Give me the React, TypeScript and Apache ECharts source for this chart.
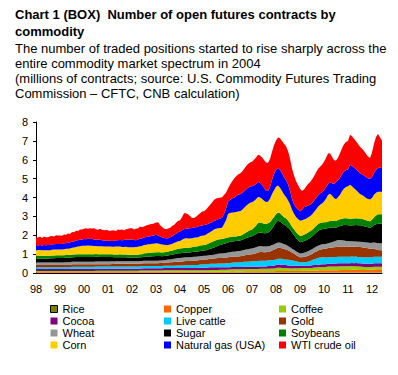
import React, { useEffect, useRef } from 'react';
import * as echarts from 'echarts';

// Tick labels (January of each year); monthly data Jan 1998 – Jun 2012
const yearLabels = ['98', '99', '00', '01', '02', '03', '04', '05', '06', '07', '08', '09', '10', '11', '12'];
const monthsInLastYear = 6;

// Millions of open contracts, monthly, stacked bottom -> top
const rice = [
  .01, .01, .01, .01, .01, .01, .01, .01, .01, .01, .01, .01,
  .01, .01, .01, .01, .01, .01, .01, .01, .01, .01, .01, .01,
  .01, .01, .01, .01, .01, .01, .01, .01, .01, .01, .01, .01,
  .01, .01, .01, .01, .01, .01, .01, .01, .01, .01, .01, .01,
  .01, .01, .01, .01, .01, .01, .01, .01, .01, .01, .01, .01,
  .01, .01, .01, .01, .01, .01, .01, .01, .01, .01, .01, .01,
  .01, .01, .01, .01, .01, .01, .01, .01, .01, .01, .01, .01,
  .01, .01, .01, .01, .01, .01, .01, .01, .01, .01, .01, .01,
  .02, .02, .02, .02, .02, .02, .02, .02, .02, .02, .02, .02,
  .02, .02, .02, .02, .02, .02, .02, .02, .02, .02, .02, .02,
  .02, .02, .02, .02, .02, .02, .02, .02, .02, .02, .02, .02,
  .02, .02, .02, .02, .02, .02, .02, .02, .02, .02, .02, .02,
  .02, .02, .02, .02, .02, .02, .02, .02, .02, .02, .02, .02,
  .02, .02, .02, .02, .02, .02, .02, .02, .02, .02, .02, .02,
  .02, .02, .02, .02, .02, .02,
];
const copper = [
  .04, .04, .04, .04, .04, .04, .04, .04, .04, .04, .04, .04,
  .04, .04, .04, .04, .04, .04, .04, .04, .04, .04, .04, .04,
  .04, .04, .04, .04, .04, .04, .04, .04, .04, .04, .04, .04,
  .04, .04, .04, .04, .04, .04, .04, .04, .04, .04, .04, .04,
  .04, .04, .04, .04, .05, .05, .05, .05, .05, .05, .05, .05,
  .05, .05, .05, .05, .05, .05, .05, .05, .05, .05, .05, .05,
  .05, .05, .06, .06, .05, .05, .05, .05, .05, .05, .06, .06,
  .06, .06, .06, .06, .06, .06, .06, .06, .06, .06, .06, .06,
  .06, .06, .07, .07, .06, .06, .06, .06, .07, .07, .07, .07,
  .07, .07, .07, .07, .07, .07, .07, .07, .07, .07, .07, .07,
  .08, .08, .08, .08, .08, .08, .08, .08, .08, .09, .09, .09,
  .09, .10, .10, .10, .10, .10, .10, .11, .11, .11, .12, .12,
  .12, .12, .13, .13, .13, .13, .13, .13, .14, .14, .14, .14,
  .14, .14, .15, .15, .15, .14, .14, .14, .14, .14, .15, .15,
  .16, .17, .18, .18, .18, .18,
];
const coffee = [
  .06, .06, .06, .06, .06, .06, .06, .06, .06, .06, .06, .06,
  .06, .06, .06, .06, .06, .06, .06, .06, .06, .06, .06, .06,
  .06, .06, .06, .06, .06, .06, .07, .07, .07, .07, .07, .07,
  .07, .07, .07, .07, .07, .07, .07, .07, .07, .07, .07, .07,
  .07, .07, .07, .07, .07, .07, .07, .07, .07, .07, .07, .07,
  .07, .07, .07, .07, .08, .08, .08, .08, .08, .08, .08, .08,
  .08, .08, .08, .08, .08, .08, .08, .08, .08, .08, .08, .08,
  .08, .08, .08, .09, .09, .09, .09, .09, .10, .10, .10, .10,
  .10, .11, .11, .11, .12, .12, .12, .12, .12, .12, .12, .12,
  .12, .12, .12, .12, .13, .13, .13, .13, .14, .14, .15, .15,
  .16, .18, .18, .17, .16, .16, .15, .15, .14, .14, .14, .14,
  .14, .14, .14, .14, .14, .15, .15, .16, .16, .17, .17, .18,
  .18, .18, .19, .19, .19, .20, .20, .20, .20, .20, .20, .20,
  .20, .20, .20, .19, .19, .18, .18, .17, .16, .16, .15, .15,
  .14, .14, .13, .13, .13, .13,
];
const cocoa = [
  .10, .10, .10, .10, .10, .10, .10, .10, .10, .10, .10, .10,
  .10, .10, .10, .10, .10, .10, .11, .11, .11, .11, .11, .11,
  .11, .11, .11, .11, .11, .11, .11, .11, .11, .11, .11, .11,
  .11, .11, .11, .11, .11, .11, .11, .11, .11, .11, .11, .11,
  .11, .11, .11, .11, .11, .11, .12, .12, .12, .12, .12, .12,
  .12, .12, .12, .12, .12, .12, .12, .12, .12, .12, .12, .12,
  .12, .12, .12, .12, .12, .12, .13, .13, .13, .13, .13, .13,
  .13, .13, .14, .14, .14, .14, .14, .14, .13, .13, .13, .13,
  .12, .12, .12, .12, .12, .12, .12, .12, .12, .12, .12, .12,
  .12, .12, .12, .12, .13, .13, .13, .13, .14, .14, .15, .15,
  .16, .17, .17, .17, .16, .16, .15, .15, .14, .14, .13, .13,
  .13, .13, .13, .13, .13, .13, .14, .14, .14, .14, .14, .14,
  .15, .15, .15, .15, .15, .15, .15, .16, .16, .16, .16, .16,
  .16, .16, .16, .16, .17, .17, .17, .17, .17, .17, .17, .17,
  .17, .18, .18, .18, .18, .18,
];
const liveCattle = [
  .10, .10, .10, .10, .10, .10, .10, .10, .10, .10, .10, .10,
  .10, .10, .10, .10, .10, .10, .11, .11, .11, .11, .11, .11,
  .11, .11, .11, .11, .11, .11, .11, .11, .11, .11, .11, .11,
  .11, .11, .12, .12, .12, .12, .12, .12, .12, .12, .12, .12,
  .12, .12, .12, .12, .12, .12, .12, .12, .12, .12, .12, .12,
  .12, .12, .12, .12, .12, .12, .13, .13, .13, .13, .14, .14,
  .14, .14, .14, .15, .15, .15, .15, .16, .16, .16, .17, .17,
  .18, .18, .18, .19, .19, .19, .19, .20, .20, .20, .20, .21,
  .21, .22, .22, .23, .23, .24, .25, .25, .26, .27, .27, .28,
  .29, .29, .29, .30, .30, .30, .30, .30, .30, .30, .30, .30,
  .30, .31, .31, .31, .30, .30, .30, .29, .28, .26, .24, .22,
  .19, .18, .18, .19, .21, .24, .27, .30, .33, .36, .37, .37,
  .36, .35, .35, .35, .35, .35, .35, .35, .34, .34, .34, .34,
  .34, .34, .34, .34, .34, .34, .34, .34, .34, .35, .35, .35,
  .35, .35, .35, .35, .35, .35,
];
const gold = [
  .12, .12, .12, .12, .12, .12, .12, .12, .12, .12, .12, .12,
  .12, .12, .12, .12, .12, .12, .13, .13, .13, .13, .13, .13,
  .13, .13, .13, .13, .13, .13, .13, .13, .13, .13, .13, .13,
  .13, .13, .13, .13, .14, .14, .14, .14, .14, .14, .14, .14,
  .14, .14, .14, .14, .14, .14, .15, .15, .15, .15, .15, .15,
  .15, .15, .16, .16, .16, .17, .17, .18, .18, .19, .19, .20,
  .20, .21, .21, .22, .22, .22, .23, .23, .23, .24, .24, .25,
  .25, .25, .26, .26, .27, .28, .29, .30, .30, .30, .31, .31,
  .32, .32, .32, .32, .32, .32, .32, .33, .34, .35, .36, .37,
  .38, .40, .42, .45, .46, .46, .45, .45, .45, .47, .50, .54,
  .57, .58, .57, .56, .55, .53, .50, .46, .42, .38, .33, .29,
  .26, .27, .28, .29, .31, .32, .33, .35, .37, .39, .41, .43,
  .45, .47, .49, .50, .51, .52, .53, .53, .53, .53, .53, .53,
  .53, .53, .53, .53, .53, .53, .53, .52, .51, .49, .47, .45,
  .44, .42, .38, .36, .35, .35,
];
const wheat = [
  .13, .13, .13, .13, .13, .13, .13, .13, .13, .13, .13, .13,
  .13, .13, .13, .14, .14, .14, .14, .14, .14, .14, .14, .14,
  .14, .14, .14, .14, .14, .14, .14, .14, .14, .14, .14, .14,
  .14, .14, .14, .13, .13, .13, .13, .13, .13, .13, .13, .13,
  .13, .13, .13, .13, .13, .13, .13, .13, .13, .13, .13, .13,
  .13, .13, .13, .13, .14, .14, .15, .15, .16, .17, .18, .19,
  .20, .20, .20, .20, .20, .20, .20, .20, .20, .20, .20, .20,
  .20, .20, .20, .20, .20, .20, .21, .22, .23, .23, .24, .24,
  .25, .25, .26, .26, .27, .28, .28, .29, .29, .30, .30, .30,
  .30, .31, .32, .32, .31, .31, .30, .30, .30, .29, .29, .28,
  .28, .28, .27, .26, .25, .25, .23, .22, .21, .20, .20, .20,
  .20, .21, .22, .23, .24, .25, .25, .25, .26, .26, .26, .26,
  .26, .25, .25, .26, .28, .30, .33, .36, .36, .35, .33, .31,
  .30, .29, .28, .28, .27, .27, .27, .28, .29, .29, .30, .30,
  .32, .34, .36, .36, .36, .36,
];
const sugar = [
  .20, .20, .21, .21, .20, .20, .21, .22, .22, .22, .23, .23,
  .23, .23, .24, .24, .24, .24, .24, .24, .25, .25, .25, .25,
  .25, .25, .25, .25, .25, .25, .25, .25, .24, .24, .24, .24,
  .24, .24, .23, .23, .22, .22, .22, .21, .21, .21, .20, .20,
  .20, .20, .20, .20, .21, .21, .22, .22, .23, .23, .24, .24,
  .25, .25, .24, .23, .22, .22, .22, .23, .23, .24, .24, .25,
  .25, .25, .25, .25, .26, .26, .26, .27, .27, .27, .28, .28,
  .28, .29, .31, .33, .35, .38, .40, .42, .45, .48, .50, .52,
  .54, .55, .55, .55, .55, .55, .55, .56, .58, .60, .62, .64,
  .65, .67, .70, .72, .72, .71, .70, .70, .72, .78, .88, 1.00,
  1.10, 1.15, 1.13, 1.08, 1.03, 1.00, .97, .93, .86, .78, .70, .64,
  .60, .60, .62, .63, .64, .65, .67, .70, .74, .78, .80, .80,
  .80, .80, .80, .80, .78, .74, .69, .70, .74, .78, .82, .84,
  .84, .84, .85, .86, .87, .88, .88, .87, .85, .83, .81, .80,
  .85, .92, .98, 1.03, 1.04, 1.04,
];
const soybeans = [
  .15, .15, .15, .15, .15, .14, .14, .14, .15, .15, .15, .15,
  .15, .15, .14, .14, .14, .14, .14, .14, .15, .15, .15, .15,
  .15, .15, .15, .15, .15, .15, .15, .14, .14, .14, .14, .14,
  .14, .14, .14, .14, .14, .14, .15, .15, .15, .15, .15, .15,
  .15, .15, .15, .15, .16, .16, .17, .17, .18, .18, .19, .19,
  .20, .20, .20, .20, .20, .20, .20, .21, .22, .23, .24, .25,
  .25, .25, .25, .25, .25, .26, .26, .27, .28, .28, .29, .29,
  .30, .30, .31, .32, .33, .35, .35, .33, .31, .29, .28, .27,
  .26, .26, .26, .25, .25, .25, .25, .26, .28, .30, .33, .35,
  .35, .40, .46, .53, .53, .52, .51, .50, .49, .48, .47, .46,
  .45, .44, .43, .42, .41, .40, .38, .34, .30, .31, .32, .33,
  .34, .34, .34, .35, .35, .35, .35, .35, .36, .36, .36, .36,
  .35, .35, .35, .35, .35, .36, .36, .36, .36, .36, .36, .36,
  .36, .36, .36, .36, .36, .36, .36, .36, .36, .35, .35, .35,
  .37, .42, .47, .50, .50, .50,
];
const corn = [
  .30, .31, .30, .29, .30, .31, .30, .29, .30, .31, .30, .30,
  .30, .31, .32, .33, .34, .35, .36, .37, .38, .40, .42, .44,
  .45, .45, .46, .45, .44, .43, .42, .42, .43, .43, .42, .42,
  .42, .41, .40, .41, .42, .42, .41, .40, .40, .41, .40, .40,
  .40, .40, .41, .42, .42, .43, .44, .45, .46, .46, .47, .47,
  .47, .46, .44, .42, .40, .38, .35, .35, .36, .37, .38, .39,
  .40, .45, .50, .50, .49, .48, .47, .47, .47, .48, .49, .50,
  .50, .52, .55, .56, .58, .60, .60, .60, .60, .60, .75, .95,
  1.25, 1.27, 1.28, 1.28, 1.29, 1.30, 1.30, 1.33, 1.36, 1.40, 1.43, 1.45,
  1.45, 1.42, 1.39, 1.37, 1.33, 1.28, 1.22, 1.16, 1.15, 1.25, 1.35, 1.42,
  1.45, 1.42, 1.35, 1.28, 1.20, 1.12, 1.08, 1.00, .90, .82, .80, .80,
  .80, .80, .80, .80, .80, .80, .82, .85, .88, .92, .96, 1.00,
  1.10, 1.25, 1.40, 1.45, 1.35, 1.20, 1.15, 1.20, 1.30, 1.45, 1.58, 1.66,
  1.70, 1.80, 1.70, 1.60, 1.50, 1.40, 1.30, 1.26, 1.22, 1.18, 1.15, 1.15,
  1.15, 1.18, 1.20, 1.20, 1.20, 1.20,
];
const naturalGas = [
  .25, .24, .26, .25, .27, .26, .28, .27, .29, .28, .30, .30,
  .30, .29, .31, .30, .32, .31, .33, .32, .34, .33, .35, .34,
  .35, .34, .36, .35, .37, .34, .33, .35, .34, .32, .31, .30,
  .30, .31, .30, .32, .33, .34, .35, .36, .37, .38, .39, .40,
  .40, .38, .36, .39, .41, .40, .42, .41, .43, .42, .44, .44,
  .45, .43, .40, .38, .36, .35, .36, .38, .40, .42, .45, .48,
  .50, .50, .50, .52, .53, .54, .55, .55, .55, .55, .55, .55,
  .55, .53, .51, .49, .47, .45, .46, .48, .50, .53, .55, .60,
  .65, .70, .74, .78, .83, .88, .90, .90, .89, .88, .87, .86,
  .85, .83, .81, .80, .78, .74, .68, .60, .56, .62, .75, .85,
  .90, .95, .95, .93, .91, .90, .85, .72, .58, .52, .50, .50,
  .50, .55, .65, .64, .62, .60, .60, .60, .60, .60, .60, .60,
  .60, .60, .60, .60, .65, .75, .90, .90, .90, .90, .90, .90,
  .90, 1.05, 1.08, 1.10, 1.10, 1.10, 1.10, 1.10, 1.10, 1.10, 1.10, 1.10,
  1.12, 1.16, 1.20, 1.25, 1.28, 1.30,
];
const wtiCrudeOil = [
  .44, .42, .45, .40, .46, .43, .41, .47, .44, .42, .46, .45,
  .45, .43, .47, .44, .48, .46, .50, .49, .52, .50, .54, .53,
  .55, .58, .53, .57, .55, .60, .56, .52, .58, .55, .54, .57,
  .55, .52, .58, .54, .50, .56, .53, .57, .52, .55, .58, .60,
  .60, .56, .62, .58, .63, .60, .57, .62, .59, .64, .61, .63,
  .65, .70, .60, .55, .50, .48, .52, .50, .55, .53, .58, .60,
  .60, .70, .85, .80, .75, .65, .52, .50, .55, .62, .66, .72,
  .75, .80, .88, .95, 1.05, 1.12, 1.15, 1.13, 1.10, 1.08, 1.00, .85,
  .70, .80, .90, 1.00, 1.05, 1.08, 1.10, 1.12, 1.18, 1.22, 1.26, 1.28,
  1.30, 1.35, 1.40, 1.45, 1.45, 1.46, 1.48, 1.50, 1.50, 1.48, 1.50, 1.53,
  1.55, 1.60, 1.68, 1.72, 1.78, 1.80, 1.75, 1.70, 1.60, 1.50, 1.40, 1.30,
  1.20, 1.00, .95, 1.05, 1.15, 1.20, 1.25, 1.30, 1.35, 1.40, 1.42, 1.45,
  1.50, 1.55, 1.60, 1.55, 1.40, 1.25, 1.15, 1.20, 1.30, 1.38, 1.44, 1.48,
  1.50, 1.60, 1.58, 1.52, 1.48, 1.44, 1.40, 1.35, 1.30, 1.22, 1.15, 1.10,
  1.30, 1.55, 1.75, 1.80, 1.60, 1.40,
];

const seriesNames = [
  'Rice', 'Copper', 'Coffee', 'Cocoa', 'Live cattle', 'Gold',
  'Wheat', 'Sugar', 'Soybeans', 'Corn', 'Natural gas (USA)', 'WTI crude oil',
];
const seriesData = [rice, copper, coffee, cocoa, liveCattle, gold, wheat, sugar, soybeans, corn, naturalGas, wtiCrudeOil];
const seriesColors = [
  '#808000', '#FF6600', '#99CC00', '#800080', '#00CCFF', '#993300',
  '#969696', '#000000', '#008000', '#FFCC00', '#0000FF', '#FF0000',
];

const FONT = '"Liberation Sans", Arial, Helvetica, sans-serif';

export default function App() {
  const ref = useRef<HTMLDivElement>(null);

  useEffect(() => {
    if (!ref.current) return;
    const chart = echarts.init(ref.current, null, { renderer: 'svg' });

    const categories: string[] = [];
    yearLabels.forEach((yy, yi) => {
      const n = yi === yearLabels.length - 1 ? monthsInLastYear : 12;
      for (let m = 1; m <= n; m++) categories.push(yy + '-' + m);
    });

    const legendCol = (names: string[], left: number) => ({
      orient: 'vertical',
      left,
      top: 303,
      itemWidth: 7,
      itemHeight: 7,
      itemGap: 0,
      padding: 0,
      icon: 'rect',
      selectedMode: false,
      textStyle: { fontFamily: FONT, fontSize: 11, color: '#000', lineHeight: 12 },
      data: names.map((n) =>
        n === 'Rice'
          ? { name: n, itemStyle: { color: '#808000', borderColor: '#000', borderWidth: 1 } }
          : { name: n }
      ),
    });

    chart.setOption({
      animation: false,
      backgroundColor: '#fff',
      title: [
        {
          text: 'Chart 1 (BOX)  Number of open futures contracts by\ncommodity',
          left: 15,
          top: 6,
          padding: 0,
          textStyle: { fontFamily: FONT, fontSize: 13, fontWeight: 'bold', color: '#000', lineHeight: 17 },
        },
        {
          text:
            'The number of traded positions started to rise sharply across the\n' +
            'entire commodity market spectrum in 2004\n' +
            '(millions of contracts; source: U.S. Commodity Futures Trading\n' +
            'Commission – CFTC, CNB calculation)',
          left: 15,
          top: 41,
          padding: 0,
          textStyle: { fontFamily: FONT, fontSize: 13, fontWeight: 'normal', color: '#000', lineHeight: 15 },
        },
      ],
      legend: [
        legendCol(['Rice', 'Cocoa', 'Wheat', 'Corn'], 50),
        legendCol(['Copper', 'Live cattle', 'Sugar', 'Natural gas (USA)'], 164),
        legendCol(['Coffee', 'Gold', 'Soybeans', 'WTI crude oil'], 279),
      ],
      grid: { left: 36, right: 16, top: 122, bottom: 102, containLabel: false },
      xAxis: {
        type: 'category',
        boundaryGap: false,
        data: categories,
        axisLine: { show: true, lineStyle: { color: '#000', width: 1 } },
        axisTick: { show: false },
        axisLabel: {
          interval: (index: number) => index % 12 === 0,
          formatter: (value: string) => value.split('-')[0],
          fontFamily: FONT,
          fontSize: 11,
          color: '#000',
          margin: 10,
        },
        splitLine: { show: false },
      },
      yAxis: {
        type: 'value',
        min: 0,
        max: 8,
        interval: 1,
        axisLine: { show: true, lineStyle: { color: '#000', width: 1 } },
        axisTick: { show: true, length: 3, lineStyle: { color: '#000' } },
        axisLabel: { fontFamily: FONT, fontSize: 11, color: '#000', margin: 8 },
        splitLine: { show: false },
      },
      series: seriesNames.map((name, i) => ({
        name,
        type: 'line',
        stack: 'total',
        data: seriesData[i],
        symbol: 'none',
        showSymbol: false,
        lineStyle: { width: 0 },
        itemStyle: { color: seriesColors[i] },
        areaStyle: { color: seriesColors[i], opacity: 1 },
        emphasis: { disabled: true },
        z: 2,
      })),
    });

    return () => chart.dispose();
  }, []);

  return (
    <div
      ref={ref}
      style={{ position: 'fixed', left: 0, top: 0, width: 398, height: 375, background: '#fff' }}
    />
  );
}
